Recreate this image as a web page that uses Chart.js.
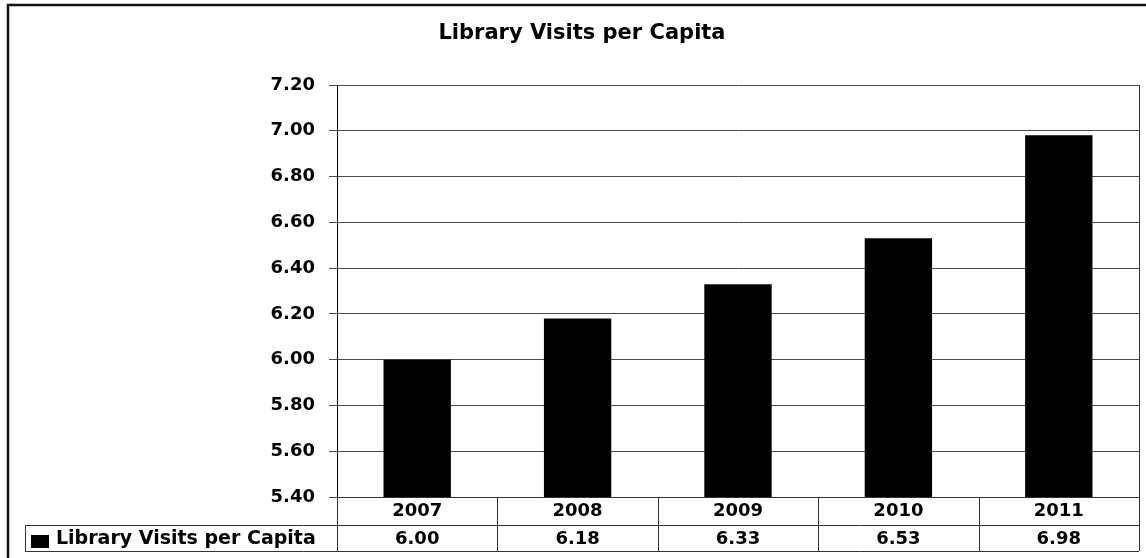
<!DOCTYPE html>
<html>
<head>
<meta charset="utf-8">
<script src="https://cdn.jsdelivr.net/npm/chart.js@4/dist/chart.umd.min.js"></script>
<style>
    body { margin: 0; background: #fff; }
    #wrap { width: 1146px; height: 558px; position: relative; }
</style>
</head>
<body>
<div id="wrap"><canvas id="visits"></canvas></div>
<script>
var years = ['2007', '2008', '2009', '2010', '2011'];
var visitsPerCapita = [6.00, 6.18, 6.33, 6.53, 6.98];
var seriesName = 'Library Visits per Capita';
var chartTitle = 'Library Visits per Capita';

var FONT = 'DejaVu Sans';
Chart.defaults.font.family = FONT;
Chart.defaults.color = '#000';

// outer frame, title and the data table under the x axis
var dataTable = {
    id: 'dataTable',
    beforeDraw: function (chart) {
        var ctx = chart.ctx;
        ctx.save();
        ctx.fillStyle = '#fff';
        ctx.fillRect(0, 0, chart.width, chart.height);
        ctx.strokeStyle = '#111';
        ctx.lineWidth = 2.5;
        ctx.beginPath();
        ctx.moveTo(8, chart.height);
        ctx.lineTo(8, 5);
        ctx.lineTo(chart.width, 5);
        ctx.stroke();

        ctx.fillStyle = '#000';
        ctx.font = 'bold 21px ' + FONT;
        ctx.textAlign = 'center';
        ctx.textBaseline = 'middle';
        ctx.fillText(chartTitle, 582, 34);
        ctx.restore();
    },
    afterDraw: function (chart) {
        var ctx = chart.ctx;
        var area = chart.chartArea;
        var x = chart.scales.x;
        var ds = chart.data.datasets[0];
        var colW = area.width / chart.data.labels.length;
        var row1 = area.bottom + 28;
        var row2 = row1 + 26;
        var legendLeft = 25;

        ctx.save();
        ctx.strokeStyle = '#333';
        ctx.lineWidth = 1;

        // plot frame right side and bottom
        ctx.beginPath();
        ctx.moveTo(area.right + 0.5, area.top);
        ctx.lineTo(area.right + 0.5, row2);
        ctx.moveTo(area.left, area.bottom + 0.5);
        ctx.lineTo(area.right, area.bottom + 0.5);
        ctx.stroke();

        // table grid
        ctx.beginPath();
        ctx.moveTo(legendLeft, row1 + 0.5);
        ctx.lineTo(area.right, row1 + 0.5);
        ctx.moveTo(legendLeft, row2 + 0.5);
        ctx.lineTo(area.right, row2 + 0.5);
        ctx.moveTo(legendLeft + 0.5, row1);
        ctx.lineTo(legendLeft + 0.5, row2);
        for (var i = 0; i <= chart.data.labels.length; i++) {
            var bx = Math.round(area.left + i * colW) + 0.5;
            ctx.moveTo(bx, area.bottom);
            ctx.lineTo(bx, row2);
        }
        ctx.stroke();

        // legend key + series name
        ctx.fillStyle = ds.backgroundColor;
        ctx.fillRect(31, row1 + 10, 18, 13);
        ctx.fillStyle = '#000';
        ctx.font = 'bold 19px ' + FONT;
        ctx.textBaseline = 'middle';
        ctx.textAlign = 'left';
        ctx.fillText(ds.label, 56, (row1 + row2) / 2 + 1);

        // values
        ctx.font = 'bold 18px ' + FONT;
        ctx.textAlign = 'center';
        ds.data.forEach(function (v, i) {
            ctx.fillText(v.toFixed(2), x.getPixelForTick(i), (row1 + row2) / 2 + 1);
        });
        ctx.restore();
    }
};

new Chart(document.getElementById('visits'), {
    type: 'bar',
    data: {
        labels: years,
        datasets: [{
            label: seriesName,
            data: visitsPerCapita,
            backgroundColor: '#000',
            borderWidth: 0,
            categoryPercentage: 1,
            barPercentage: 0.42
        }]
    },
    options: {
        responsive: true,
        maintainAspectRatio: false,
        animation: false,
        layout: { padding: { left: 0, right: 7, top: 85, bottom: 0 } },
        plugins: {
            legend: { display: false },
            tooltip: { enabled: false },
            title: { display: false }
        },
        scales: {
            x: {
                grid: { display: false },
                border: { display: false },
                ticks: { font: { size: 18, weight: 'bold' }, padding: -4, maxRotation: 0 },
                afterFit: function (scale) { scale.height = 61; }
            },
            y: {
                min: 5.4,
                max: 7.2,
                grid: { color: '#4a4a4a', lineWidth: 1, tickLength: 8 },
                border: { display: true, color: '#000', width: 1 },
                ticks: {
                    stepSize: 0.2,
                    padding: 14,
                    font: { size: 18, weight: 'bold' },
                    callback: function (v) { return v.toFixed(2); }
                },
                afterFit: function (scale) { scale.width = 337; }
            }
        }
    },
    plugins: [dataTable]
});
</script>
</body>
</html>
